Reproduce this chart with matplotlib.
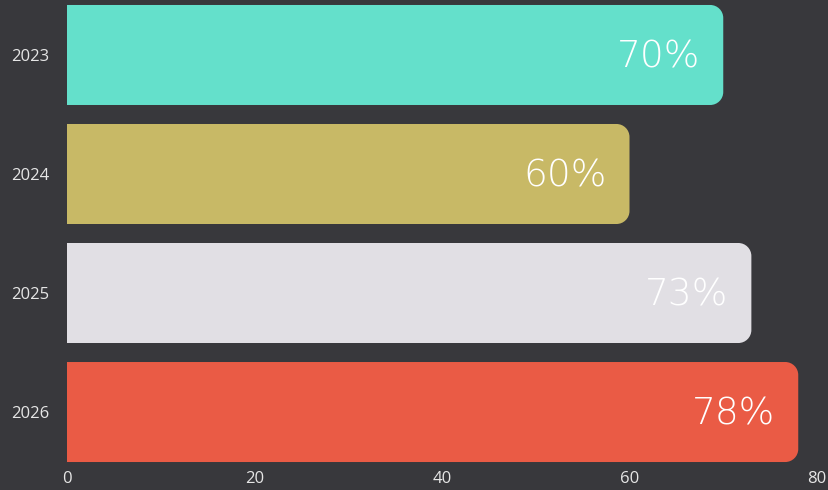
import matplotlib
matplotlib.use("Agg")
import matplotlib.pyplot as plt
from matplotlib.path import Path
from matplotlib.patches import PathPatch

years = ["2023", "2024", "2025", "2026"]
values = [70, 60, 73, 78]
colors = ["#64e0cb", "#c8b966", "#e1dfe4", "#ea5b45"]

bg = "#38383c"
W, H = 829, 490

fig = plt.figure(figsize=(W / 100, H / 100), dpi=100, facecolor=bg)
ax = fig.add_axes([67 / W, (H - 467) / H, 750 / W, 467 / H], facecolor=bg)
ax.set_xlim(0, 80)
ax.set_ylim(3.462, -0.462)

bar_h = 100 / 119
px_x = 750 / 80      # pixels per x unit
px_y = 467 / 3.924   # pixels per y unit
r_px = 13
rx = r_px / px_x
ry = r_px / px_y
k = 0.5523


def rounded_bar(y, w, color):
    y0, y1 = y - bar_h / 2, y + bar_h / 2
    verts = [
        (0, y0), (w - rx, y0),
        (w - rx + k * rx, y0), (w, y0 + ry - k * ry), (w, y0 + ry),
        (w, y1 - ry),
        (w, y1 - ry + k * ry), (w - rx + k * rx, y1), (w - rx, y1),
        (0, y1), (0, y0),
    ]
    codes = [Path.MOVETO, Path.LINETO,
             Path.CURVE4, Path.CURVE4, Path.CURVE4,
             Path.LINETO,
             Path.CURVE4, Path.CURVE4, Path.CURVE4,
             Path.LINETO, Path.CLOSEPOLY]
    ax.add_patch(PathPatch(Path(verts, codes), facecolor=color, edgecolor="none"))


for i, (v, c) in enumerate(zip(values, colors)):
    rounded_bar(i, v, c)
    ax.text(v - 23 / px_x, i + 0.02, f"{v}%", ha="right", va="center",
            color="white", fontsize=27, family="DejaVu Sans", fontweight="light")

ax.set_yticks(range(len(years)))
ax.set_yticklabels(years)
ax.set_xticks([0, 20, 40, 60, 80])
for s in ax.spines.values():
    s.set_visible(False)
ax.tick_params(length=0, colors="#e6e6e6", labelsize=12)
ax.tick_params(axis="y", pad=13)
ax.tick_params(axis="x", pad=3)
for lab in ax.get_xticklabels() + ax.get_yticklabels():
    lab.set_family("Open Sans")

fig.savefig("out.png", dpi=100, facecolor=bg)
